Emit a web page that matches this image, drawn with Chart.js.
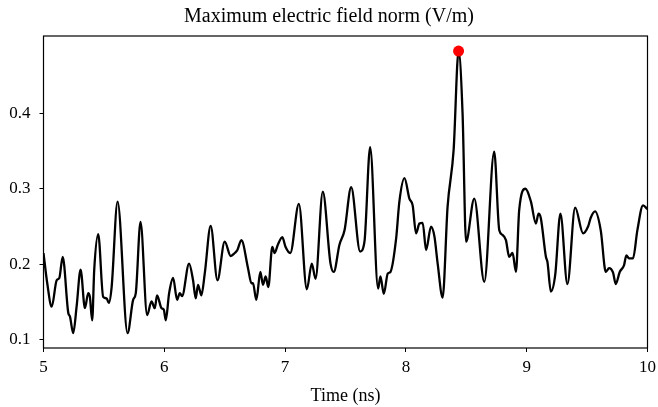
<!DOCTYPE html>
<html>
<head>
<meta charset="utf-8">
<script src="https://cdn.jsdelivr.net/npm/chart.js@4/dist/chart.umd.min.js"></script>
<style>
  html, body { margin: 0; padding: 0; background: #fff; }
  #wrap { width: 658px; height: 407px; }
</style>
</head>
<body>
<div id="wrap"><canvas id="fieldChart" width="658" height="407"></canvas></div>
<script>
// temps (ns) et valeurs
const times = [
  5.000, 5.031, 5.068, 5.109, 5.131, 5.159, 5.205, 5.219, 5.246, 5.274,
  5.307, 5.343, 5.370, 5.384, 5.403, 5.420, 5.453, 5.494, 5.522, 5.541,
  5.564, 5.613, 5.696, 5.742, 5.764, 5.803, 5.858, 5.894, 5.921, 5.940,
  5.977, 5.996, 6.012, 6.040, 6.073, 6.106, 6.128, 6.147, 6.205, 6.238,
  6.260, 6.279, 6.293, 6.307, 6.335, 6.384, 6.440, 6.500, 6.550, 6.583,
  6.605, 6.638, 6.693, 6.721, 6.734, 6.762, 6.795, 6.817, 6.839, 6.861,
  6.894, 6.913, 6.940, 6.977, 7.004, 7.043, 7.114, 7.180, 7.221, 7.252,
  7.312, 7.376, 7.403, 7.450, 7.492, 7.547, 7.621, 7.657, 7.704, 7.770,
  7.789, 7.817, 7.850, 7.872, 7.919, 7.946, 7.988, 8.029, 8.056, 8.084,
  8.112, 8.139, 8.167, 8.208, 8.236, 8.263, 8.304, 8.345, 8.395, 8.436,
  8.469, 8.498, 8.566, 8.649, 8.731, 8.773, 8.800, 8.828, 8.855, 8.883,
  8.911, 8.938, 8.990, 9.035, 9.076, 9.098, 9.117, 9.159, 9.172, 9.200,
  9.236, 9.279, 9.337, 9.401, 9.467, 9.508, 9.531, 9.566, 9.613, 9.655,
  9.682, 9.715, 9.737, 9.770, 9.806, 9.825, 9.847, 9.880, 9.916, 9.963,
  10.000
];
const fieldNorm = [
  0.215, 0.175, 0.144, 0.179, 0.182, 0.210, 0.136, 0.131, 0.109, 0.144,
  0.193, 0.142, 0.162, 0.157, 0.126, 0.193, 0.240, 0.157, 0.155, 0.149,
  0.170, 0.283, 0.109, 0.153, 0.162, 0.256, 0.133, 0.151, 0.142, 0.159,
  0.142, 0.140, 0.126, 0.162, 0.182, 0.153, 0.162, 0.158, 0.201, 0.179,
  0.155, 0.173, 0.166, 0.159, 0.188, 0.251, 0.179, 0.230, 0.211, 0.215,
  0.219, 0.232, 0.195, 0.175, 0.175, 0.153, 0.190, 0.173, 0.184, 0.170,
  0.223, 0.215, 0.226, 0.236, 0.223, 0.215, 0.280, 0.167, 0.201, 0.181,
  0.296, 0.201, 0.190, 0.226, 0.245, 0.302, 0.217, 0.230, 0.355, 0.168,
  0.184, 0.161, 0.188, 0.190, 0.234, 0.283, 0.314, 0.287, 0.278, 0.241,
  0.254, 0.255, 0.219, 0.250, 0.237, 0.201, 0.156, 0.276, 0.351, 0.482,
  0.400, 0.230, 0.287, 0.177, 0.349, 0.245, 0.239, 0.232, 0.210, 0.215,
  0.190, 0.272, 0.300, 0.283, 0.254, 0.267, 0.261, 0.210, 0.203, 0.164,
  0.186, 0.267, 0.174, 0.275, 0.241, 0.250, 0.262, 0.270, 0.245, 0.190,
  0.195, 0.189, 0.174, 0.190, 0.199, 0.212, 0.208, 0.208, 0.245, 0.278,
  0.273
];
const peakTime = [8.436];
const peakValue = [0.482];

const xTicks = [5, 6, 7, 8, 9, 10];
const yTicks = [0.1, 0.2, 0.3, 0.4];

const FONT = "'Liberation Serif', 'DejaVu Serif', serif";

// cadre complet autour de la zone du graphique
const boxPlugin = {
    id: 'box',
    afterDatasetsDraw(chart) {
        const { ctx, chartArea: a } = chart;
        ctx.save();
        ctx.strokeStyle = '#000';
        ctx.lineWidth = 1.2;
        ctx.strokeRect(a.left, a.top, a.right - a.left, a.bottom - a.top);
        ctx.restore();
    }
};

const ctx = document.getElementById('fieldChart').getContext('2d');
new Chart(ctx, {
    type: 'line',
    data: {
        datasets: [
            {
                data: peakTime.map((t, i) => ({ x: t, y: peakValue[i] })),
                showLine: false,
                pointRadius: 5.5,
                pointBackgroundColor: '#ff0000',
                pointBorderWidth: 0,
                pointBorderColor: '#ff0000'
            },
            {
                data: times.map((t, i) => ({ x: t, y: fieldNorm[i] })),
                borderColor: '#000',
                borderWidth: 2.3,
                pointRadius: 0,
                cubicInterpolationMode: 'monotone',
                fill: false
            }
        ]
    },
    plugins: [boxPlugin],
    options: {
        responsive: false,
        animation: false,
        layout: { padding: 0 },
        plugins: {
            legend: { display: false },
            tooltip: { enabled: false },
            title: {
                display: true,
                text: 'Maximum electric field norm (V/m)',
                color: '#000',
                font: { family: FONT, size: 20, weight: 'normal', lineHeight: 1.2 },
                padding: { top: 5, bottom: 7 }
            }
        },
        scales: {
            x: {
                type: 'linear',
                min: 5,
                max: 10,
                afterBuildTicks: s => { s.ticks = xTicks.map(v => ({ value: v })); },
                afterFit: s => { s.height = 59; s.paddingLeft = 0; s.paddingRight = 10.5; },
                ticks: {
                    color: '#000',
                    font: { family: FONT, size: 17 },
                    padding: 5,
                    callback: v => String(v)
                },
                grid: { display: true, drawOnChartArea: false, drawTicks: true, tickLength: 4, color: '#000', lineWidth: 1 },
                border: { display: false },
                title: {
                    display: true,
                    text: 'Time (ns)',
                    color: '#000',
                    font: { family: FONT, size: 18 },
                    padding: { top: 0, bottom: 0 }
                }
            },
            y: {
                min: 0.0894,
                max: 0.502,
                afterBuildTicks: s => { s.ticks = yTicks.map(v => ({ value: v })); },
                afterFit: s => { s.width = 43.5; },
                ticks: {
                    color: '#000',
                    font: { family: FONT, size: 17 },
                    padding: 9,
                    callback: v => v.toFixed(1)
                },
                grid: { display: true, drawOnChartArea: false, drawTicks: true, tickLength: 4, color: '#000', lineWidth: 1 },
                border: { display: false }
            }
        }
    }
});
</script>
</body>
</html>
